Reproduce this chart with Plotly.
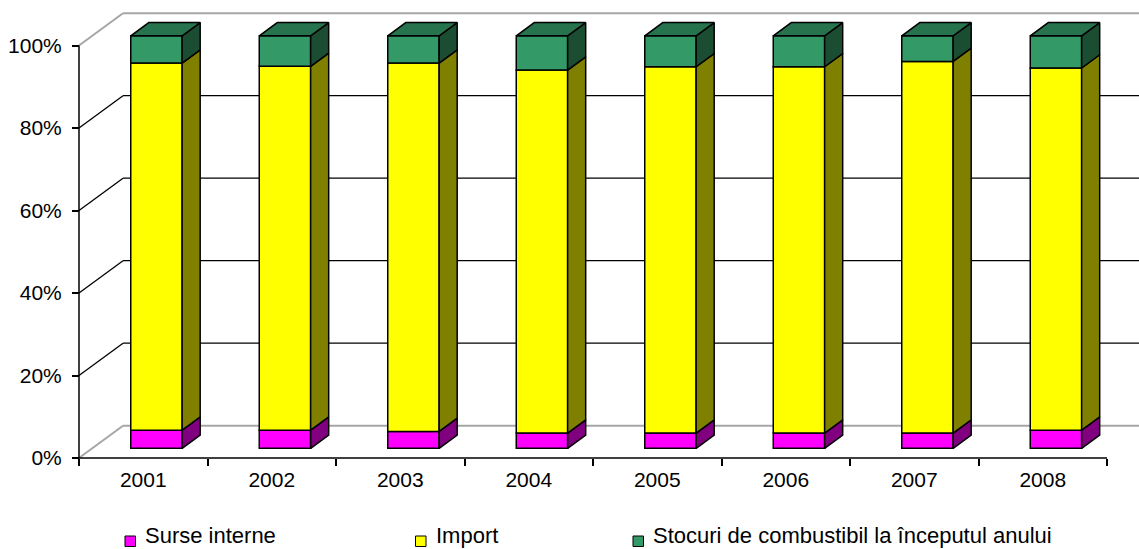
import plotly.graph_objects as go

# ---------------- data ----------------
years = ["2001", "2002", "2003", "2004", "2005", "2006", "2007", "2008"]
surse_interne = [4.4, 4.4, 4.1, 3.7, 3.7, 3.7, 3.7, 4.4]
import_vals = [89.0, 88.2, 89.3, 88.0, 88.8, 88.8, 90.1, 87.8]
stocuri = [6.6, 7.4, 6.6, 8.3, 7.5, 7.5, 6.2, 7.8]
series_names = ["Surse interne", "Import", "Stocuri de combustibil la începutul anului"]
y_tickvals = [0, 20, 40, 60, 80, 100]
y_ticktext = ["0%", "20%", "40%", "60%", "80%", "100%"]

# ---------------- style / geometry ----------------
W, H = 1139, 549
ML, MR, MT, MB = 75, 0, 0, 87
PX_CAT = 128.5          # px per category
PX_PCT = 4.125          # px per percent
X0PX, Y0PX = 79, 458    # pixel of front origin
DX = 44 / PX_CAT        # depth offset (category units)
DY = 32.3 / PX_PCT      # depth offset (percent units)
D0, D1 = 0.30, 0.71     # bar front / back depth
HALF = 0.2              # half bar width
FONT = "Liberation Sans, Arial, sans-serif"

front_cols = ["#FF00FF", "#FFFF00", "#339966"]
side_cols = ["#800080", "#808000", "#1B4D33"]
top_col = "#26734D"

plot_w = W - ML - MR
plot_h = H - MT - MB
x_range = [-(X0PX - ML) / PX_CAT, (W - MR - X0PX) / PX_CAT]
y_range = [-(MT + plot_h - Y0PX) / PX_PCT, (Y0PX - MT) / PX_PCT]

n = len(years)
totals = [a + b + c for a, b, c in zip(surse_interne, import_vals, stocuri)]
pct = [[v / t * 100 for v, t in zip(s, totals)] for s in (surse_interne, import_vals, stocuri)]
xc = [i + 0.5 for i in range(n)]

fig = go.Figure()

# walls / gridlines (back wall + left wall)
shapes = []
x_far = x_range[1] + 1
for v in y_tickvals:
    col = "#A6A6A6" if v in (0, 100) else "black"
    wdt = 2 if v in (0, 100) else 1.3
    shapes.append(dict(type="line", xref="x", yref="y", layer="below",
                       x0=0, y0=v, x1=DX, y1=v + DY, line=dict(color=col, width=wdt)))
    shapes.append(dict(type="line", xref="x", yref="y", layer="below",
                       x0=DX, y0=v + DY, x1=x_far, y1=v + DY, line=dict(color=col, width=wdt)))

# bars
lo = [0.0] * n
for k, (name, vals) in enumerate(zip(series_names, pct)):
    hi = [l + v for l, v in zip(lo, vals)]
    fig.add_trace(go.Bar(
        x=[c + D0 * DX for c in xc], y=vals, base=[l + D0 * DY for l in lo],
        width=2 * HALF, name=name, showlegend=False,
        marker=dict(color=front_cols[k], line=dict(color="black", width=1.5)),
        hovertext=years, hoverinfo="text+y"))
    sx, sy = [], []
    for c, l, h in zip(xc, lo, hi):
        xa = c + HALF + D0 * DX
        xb = c + HALF + D1 * DX
        sx += [xa, xa, xb, xb, xa, None]
        sy += [l + D0 * DY, h + D0 * DY, h + D1 * DY, l + D1 * DY, l + D0 * DY, None]
    fig.add_trace(go.Scatter(x=sx, y=sy, mode="lines", fill="toself", fillcolor=side_cols[k],
                             line=dict(color="black", width=1.5), hoverinfo="skip", showlegend=False))
    lo = hi

# top faces
tx, ty = [], []
for c, h in zip(xc, lo):
    xl0 = c - HALF + D0 * DX
    xr0 = c + HALF + D0 * DX
    xl1 = c - HALF + D1 * DX
    xr1 = c + HALF + D1 * DX
    tx += [xl0, xr0, xr1, xl1, xl0, None]
    ty += [h + D0 * DY, h + D0 * DY, h + D1 * DY, h + D1 * DY, h + D0 * DY, None]
fig.add_trace(go.Scatter(x=tx, y=ty, mode="lines", fill="toself", fillcolor=top_col,
                         line=dict(color="black", width=1.5), hoverinfo="skip", showlegend=False))

# front axis lines
fig.add_trace(go.Scatter(x=[0, 0], y=[0, 100], mode="lines", line=dict(color="black", width=1.5),
                         hoverinfo="skip", showlegend=False))
fig.add_trace(go.Scatter(x=[0, n], y=[0, 0], mode="lines", line=dict(color="black", width=1.5),
                         hoverinfo="skip", showlegend=False))

# legend (swatches + text)
def px2paper_x(px):
    return (px - ML) / plot_w

def px2paper_y(py):
    return (MT + plot_h - py) / plot_h

leg_sw_x = [125, 415.5, 633]
leg_txt_x = [143, 434, 651]
for k, name in enumerate(series_names):
    shapes.append(dict(type="rect", xref="paper", yref="paper",
                       x0=px2paper_x(leg_sw_x[k]), x1=px2paper_x(leg_sw_x[k] + 10.5),
                       y0=px2paper_y(546.5), y1=px2paper_y(536),
                       fillcolor=front_cols[k], line=dict(color="black", width=1)))
annotations = []
for k, name in enumerate(series_names):
    annotations.append(dict(text=name, xref="paper", yref="paper", x=px2paper_x(leg_txt_x[k]),
                            y=px2paper_y(535.5), xanchor="left", yanchor="middle", showarrow=False,
                            font=dict(family=FONT, size=22, color="black")))

fig.update_layout(
    template="none",
    width=W, height=H, margin=dict(l=ML, r=MR, t=MT, b=MB, autoexpand=False),
    paper_bgcolor="white", plot_bgcolor="white",
    barmode="overlay", showlegend=False,
    shapes=shapes, annotations=annotations,
    font=dict(family=FONT, size=21, color="black"),
    xaxis=dict(range=x_range, anchor="free", position=(MT + plot_h - Y0PX) / plot_h, automargin=False,
               tickvals=xc, ticktext=years, ticks="", showgrid=False, zeroline=False, showline=False,
               ticklabelstandoff=7, tickfont=dict(family=FONT, size=21, color="black"),
               minor=dict(tickvals=list(range(n + 1)), ticks="outside", ticklen=7,
                          tickcolor="black", tickwidth=1.5, showgrid=False)),
    yaxis=dict(range=y_range, anchor="free", position=(X0PX - ML) / plot_w, automargin=False,
               tickvals=y_tickvals, ticktext=y_ticktext, ticks="outside", ticklen=7,
               tickcolor="black", tickwidth=1.5, showgrid=False, zeroline=False, showline=False,
               ticklabelstandoff=6, tickfont=dict(family=FONT, size=21, color="black")),
)

fig.write_html("out.html", config={"displayModeBar": False},
               post_script="document.body.style.margin='0px';document.body.style.padding='0px';")
